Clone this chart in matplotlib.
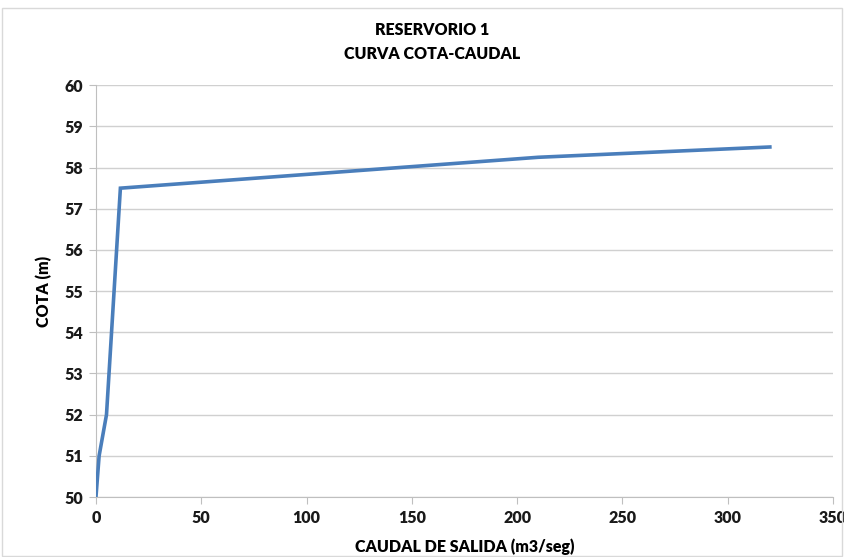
import matplotlib.pyplot as plt
from matplotlib.patches import Rectangle

plt.rcParams['font.family'] = ['Lato', 'DejaVu Sans']

# caudal de salida (m3/seg) y cota (m)
caudal = [0, 1.5, 5, 11.6, 210, 320]
cota = [50, 51, 52, 57.5, 58.25, 58.5]

xticks = [0, 50, 100, 150, 200, 250, 300, 350]
yticks = [50, 51, 52, 53, 54, 55, 56, 57, 58, 59, 60]

fig = plt.figure(figsize=(8.44, 5.57), dpi=100)
ax = fig.add_axes([0.1137, 0.1077, 0.8733, 0.7393])

ax.plot(caudal, cota, color='#4a7ebb', lw=2.6, solid_joinstyle='miter', zorder=3)

ax.set_xlim(0, 350)
ax.set_ylim(50, 60)
ax.set_xticks(xticks)
ax.set_yticks(yticks)
ax.grid(axis='y', color='#d0d0d0', lw=1)
ax.set_axisbelow(True)

for s in ['top', 'right']:
    ax.spines[s].set_visible(False)
for s in ['left', 'bottom']:
    ax.spines[s].set_color('#bfbfbf')
ax.tick_params(axis='both', colors='#bfbfbf', labelcolor='#1a1a1a', length=5,
               labelsize=11.5, pad=4)
for lab in ax.get_xticklabels() + ax.get_yticklabels():
    lab.set_fontweight('heavy')

ax.set_xlabel('CAUDAL DE SALIDA (m3/seg)', fontsize=11.5, fontweight='heavy', labelpad=9)
ax.set_ylabel('COTA (m)', fontsize=11.5, fontweight='heavy', labelpad=9)
fig.text(0.512, 0.925, 'RESERVORIO 1\nCURVA COTA-CAUDAL', ha='center', va='center',
         fontsize=11.5, fontweight='heavy', linespacing=1.6)

# marco del grafico
fig.patches.append(Rectangle((0.002, 0.002), 0.996, 0.983, transform=fig.transFigure,
                             fill=False, edgecolor='#d9d9d9', lw=1))

fig.savefig('out.png', dpi=100)
